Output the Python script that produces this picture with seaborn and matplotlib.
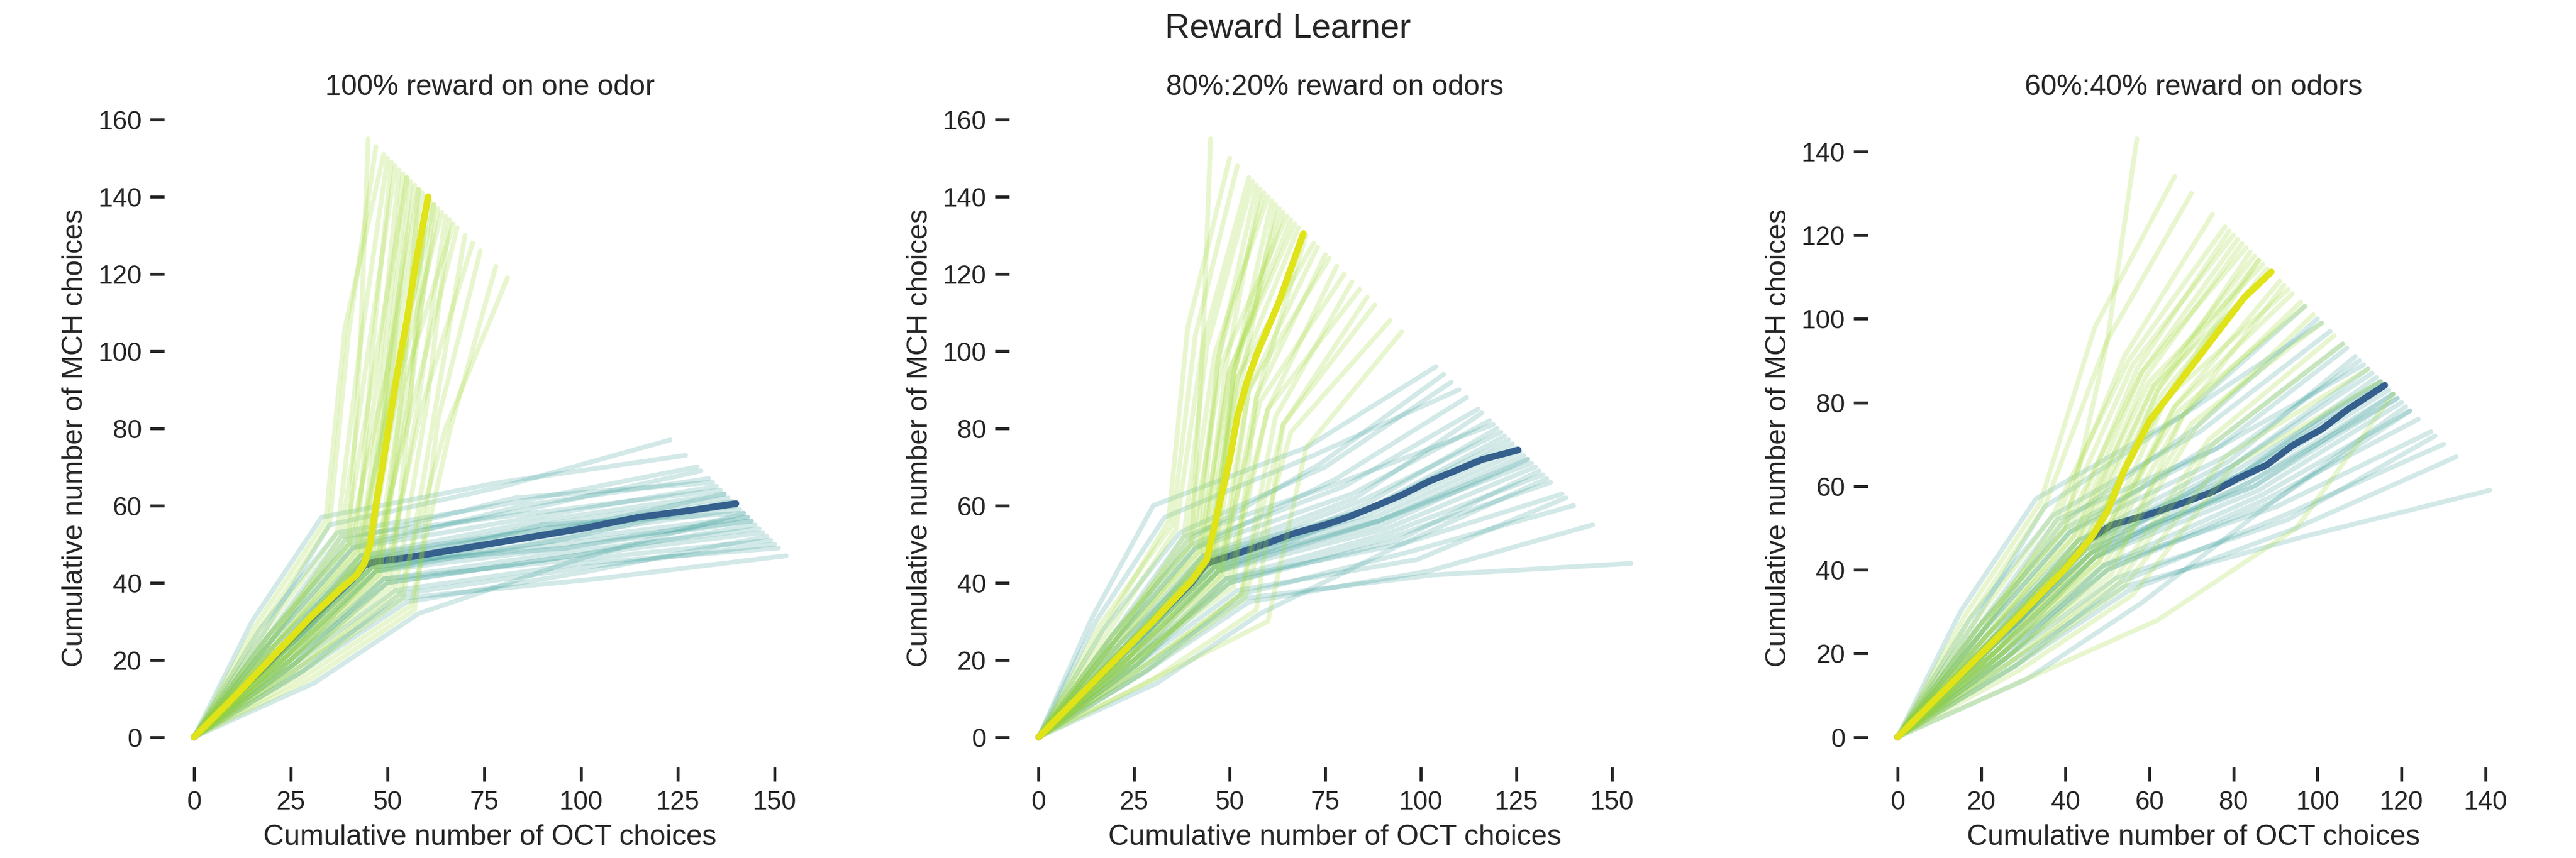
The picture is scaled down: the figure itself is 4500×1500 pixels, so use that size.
import numpy as np
import pandas as pd
import matplotlib
matplotlib.use("Agg")
import matplotlib.pyplot as plt
from matplotlib.ticker import MultipleLocator
import seaborn as sns

# ---------------- data ----------------
TITLES = ["100% reward on one odor", "80%:20% reward on odors", "60%:40% reward on odors"]
SUPTITLE = "Reward Learner"
XLABEL = "Cumulative number of OCT choices"
YLABEL = "Cumulative number of MCH choices"
XTICK_STEP = [25, 25, 20]
YTICK_STEP = [20, 20, 20]

# individual agents: cumulative counts at trials 45, 90, 145, 200 (all start at 0, 0)
# ---- panel 1: 100% reward ----
P1_YEL_OCT = [[23,45,53,61],[20,40,43,45],[25,48,55,63],[18,37,43,50],[22,44,50,57],[27,52,60,66],
              [21,42,52,62],[24,47,54,58],[19,39,47,55],[26,50,58,65],[22,43,49,54],[24,46,57,68],
              [17,35,40,47],[28,54,62,70],[23,45,51,56],[21,41,48,53],[25,49,59,72],[20,38,45,52],
              [26,51,56,60],[22,44,53,64],[29,56,66,78],[24,46,50,55],[16,34,39,49],[23,43,51,59],
              [27,53,65,81],[21,42,46,51],[25,47,56,62],[19,40,50,58],[24,48,54,67],[30,57,63,74]]
P1_YEL_MCH = [[22,45,92,139],[25,50,102,155],[20,42,90,137],[27,53,102,150],[23,46,95,143],[18,38,85,134],
              [24,48,93,138],[21,43,91,142],[26,51,98,145],[19,40,87,135],[23,47,96,146],[21,44,88,132],
              [28,55,105,153],[17,36,83,130],[22,45,94,144],[24,49,97,147],[20,41,86,128],[25,52,100,148],
              [19,39,89,140],[23,46,92,136],[16,34,79,122],[21,44,95,145],[29,56,106,151],[22,47,94,141],
              [18,37,80,119],[24,48,99,149],[20,43,89,138],[26,50,95,142],[21,42,91,133],[15,33,82,126]]
P1_TEA_OCT = [[21,43,91,139],[26,49,97,146],[19,40,86,131],[24,47,94,143],[17,37,84,130],[25,49,99,149],
              [22,44,90,138],[23,46,95,144],[20,41,85,133],[28,53,101,150],[21,44,93,141],[25,47,92,137],
              [18,35,80,123],[27,54,104,153],[22,45,92,140],[20,41,88,135],[26,50,98,147],[19,38,87,136],
              [25,50,98,145],[23,46,90,142],[28,55,102,148],[23,46,94,139],[15,33,79,127],[24,44,91,140],
              [26,52,100,151],[22,43,89,137],[24,47,96,143],[20,39,83,134],[23,45,96,144],[31,58,99,142]]
P1_TEA_MCH = [[24,47,54,61],[19,41,48,54],[26,50,59,69],[21,43,51,57],[28,53,61,70],[20,41,46,51],
              [23,46,55,62],[22,44,50,56],[25,49,60,67],[17,37,44,50],[24,46,52,59],[20,43,53,63],
              [27,55,65,77],[18,36,41,47],[23,45,53,60],[25,49,57,65],[19,40,47,53],[26,52,58,64],
              [20,40,47,55],[22,44,55,58],[17,35,43,52],[22,44,51,61],[30,57,66,73],[21,46,54,60],
              [19,38,45,49],[23,47,56,63],[21,43,49,57],[25,51,62,66],[22,45,49,56],[14,32,46,58]]
# ---- panel 2: 80%:20% ----
P2_YEL_OCT = [[22,45,52,68],[20,40,43,45],[26,48,57,75],[18,36,43,55],[23,44,51,64],[27,53,62,82],
              [20,42,50,66],[24,46,53,62],[19,39,46,60],[25,50,60,78],[22,43,49,58],[24,47,58,80],
              [16,35,41,52],[28,54,66,92],[23,45,51,63],[21,41,47,57],[26,49,60,84],[20,38,44,56],
              [25,51,57,70],[22,44,52,72],[30,60,70,95],[24,46,51,61],[17,34,39,50],[23,43,50,67],
              [27,53,64,88],[21,42,47,59],[25,47,55,73],[19,40,48,65],[24,48,55,76],[30,57,64,86]]
P2_YEL_MCH = [[23,45,93,132],[25,50,102,155],[19,42,88,125],[27,54,102,145],[22,46,94,136],[18,37,83,118],
              [25,48,95,134],[21,44,92,138],[26,51,99,140],[20,40,85,122],[23,47,96,142],[21,43,87,120],
              [29,55,104,148],[17,36,79,108],[22,45,94,137],[24,49,98,143],[19,41,85,116],[25,52,101,144],
              [20,39,88,130],[23,46,93,128],[15,30,75,105],[21,44,94,139],[28,56,106,150],[22,47,95,133],
              [18,37,81,112],[24,48,98,141],[20,43,90,127],[26,50,97,135],[21,42,90,124],[15,33,81,114]]
P2_TEA_OCT = [[21,43,86,124],[26,49,92,132],[19,40,80,115],[24,47,89,129],[17,37,75,108],[25,49,95,137],
              [22,44,84,121],[23,46,90,128],[20,41,78,112],[28,53,97,140],[21,44,88,126],[25,47,86,122],
              [14,30,70,104],[27,54,103,155],[22,45,87,125],[20,41,82,118],[26,50,93,134],[19,38,79,119],
              [25,50,94,131],[23,46,85,120],[28,55,102,145],[23,46,89,127],[15,33,72,110],[24,44,86,123],
              [26,52,99,138],[22,43,83,116],[24,47,91,130],[20,39,74,106],[23,45,89,128],[31,58,95,133]]
P2_TEA_MCH = [[24,47,59,76],[19,41,53,68],[26,50,65,85],[21,43,56,71],[28,53,70,92],[20,41,50,63],
              [23,46,61,79],[22,44,55,72],[25,49,67,88],[17,37,48,60],[24,46,57,74],[20,43,59,78],
              [31,60,75,96],[18,36,42,45],[23,45,58,75],[25,49,63,82],[19,40,52,66],[26,52,66,81],
              [20,40,51,69],[22,44,60,80],[17,35,43,55],[22,44,56,73],[30,57,73,90],[21,46,59,77],
              [19,38,46,62],[23,47,62,84],[21,43,54,70],[25,51,71,94],[22,45,56,72],[14,32,50,67]]
# ---- panel 3: 60%:40% ----
P3_YEL_OCT = [[23,45,63,88],[20,40,50,57],[25,48,68,96],[18,37,55,78],[22,44,61,85],[27,52,74,104],
              [21,42,60,87],[24,47,64,86],[19,39,56,80],[26,50,71,99],[22,43,59,82],[24,46,67,97],
              [17,35,50,70],[28,54,78,112],[23,45,62,86],[21,41,57,79],[25,49,70,101],[20,38,54,75],
              [26,51,68,92],[22,44,64,93],[29,56,80,115],[24,46,62,84],[16,34,47,66],[23,43,61,89],
              [27,53,75,106],[21,42,58,81],[25,47,66,94],[19,40,58,83],[24,48,66,91],[31,62,95,118]]
P3_YEL_MCH = [[22,45,82,112],[25,50,95,143],[20,42,77,104],[27,53,90,122],[23,46,84,115],[18,38,71,96],
              [24,48,85,113],[21,43,81,114],[26,51,89,120],[19,40,74,101],[23,47,86,118],[21,44,78,103],
              [28,55,95,130],[17,36,67,88],[22,45,83,114],[24,49,88,121],[20,41,75,99],[25,52,91,125],
              [19,39,77,108],[23,46,81,107],[16,34,65,85],[21,44,83,116],[29,56,98,134],[22,47,84,111],
              [18,37,70,94],[24,48,87,119],[20,43,79,106],[26,50,87,117],[21,42,79,109],[14,28,50,82]]
P3_TEA_OCT = [[21,43,82,116],[26,49,87,122],[19,40,76,107],[24,47,84,119],[17,37,72,103],[25,49,90,127],
              [22,44,80,113],[23,46,85,118],[20,41,75,106],[28,53,92,130],[21,44,83,117],[25,47,82,114],
              [18,35,68,97],[27,54,97,141],[22,45,82,115],[20,41,78,110],[26,50,88,124],[19,38,76,111],
              [25,50,89,121],[23,46,80,112],[28,55,95,133],[23,46,84,118],[15,33,68,101],[24,44,81,115],
              [26,52,93,128],[22,43,79,109],[24,47,86,120],[20,39,71,100],[23,45,85,119],[31,58,89,122]]
P3_TEA_MCH = [[24,47,63,84],[19,41,58,78],[26,50,69,93],[21,43,61,81],[28,53,73,97],[20,41,55,73],
              [23,46,65,87],[22,44,60,82],[25,49,70,94],[17,37,53,70],[24,46,62,83],[20,43,63,86],
              [27,55,77,103],[18,36,48,59],[23,45,63,85],[25,49,67,90],[19,40,57,76],[26,52,69,89],
              [20,40,56,79],[22,44,65,88],[17,35,50,67],[22,44,61,82],[30,57,77,99],[21,46,64,85],
              [19,38,52,72],[23,47,66,91],[21,43,59,80],[25,51,74,100],[22,45,60,81],[14,32,56,78]]

# group means
P1_YEL_MEAN_OCT = [0, 10, 20, 30, 38, 42, 44, 45.5, 47, 49, 51, 53, 55, 57, 59, 60.5]
P1_YEL_MEAN_MCH = [0, 10, 20.5, 31, 38.5, 42, 45, 50, 60, 72, 85, 97, 108, 121, 132, 140]
P1_TEA_MEAN_OCT = [0, 10, 20, 30, 38, 42, 44, 47, 55, 70, 85, 100, 115, 130, 140]
P1_TEA_MEAN_MCH = [0, 10, 20, 30.5, 38, 42, 44.5, 45.5, 46.5, 49, 51.5, 54, 57, 59, 60.5]
P2_YEL_MEAN_OCT = [0, 10, 20, 30, 40, 44, 47, 50, 52, 54.5, 57, 60, 63, 65.5, 69.3]
P2_YEL_MEAN_MCH = [0, 10, 20, 30, 40.5, 46, 59, 72, 83, 92, 99, 106, 113, 120, 130.5]
P2_TEA_MEAN_OCT = [0, 10, 20, 30, 40, 44, 52.6, 60, 66.8, 75, 81, 88, 95, 102, 109, 116, 125.5]
P2_TEA_MEAN_MCH = [0, 10, 20, 30, 40, 45, 47.8, 50.3, 52.8, 55, 57, 59.8, 62.7, 66.2, 69, 71.9, 74.4]
P3_YEL_MEAN_OCT = [0, 10, 20, 30, 40, 46, 50, 54, 60, 67, 75, 82.5, 89]
P3_YEL_MEAN_MCH = [0, 10, 20, 30, 40.3, 47.5, 54, 63.8, 75.6, 84.7, 95.2, 105, 111.2]
P3_TEA_MEAN_OCT = [0, 10, 20, 30, 40, 46, 51, 60, 68, 75, 81, 88, 94, 101, 107, 116]
P3_TEA_MEAN_MCH = [0, 10, 20, 30, 40.3, 47.5, 50.7, 53.3, 56, 58.6, 61.8, 65.1, 69.7, 73.6, 78.2, 84.1]

PANELS = [
    (P1_YEL_OCT, P1_YEL_MCH, P1_TEA_OCT, P1_TEA_MCH,
     P1_YEL_MEAN_OCT, P1_YEL_MEAN_MCH, P1_TEA_MEAN_OCT, P1_TEA_MEAN_MCH),
    (P2_YEL_OCT, P2_YEL_MCH, P2_TEA_OCT, P2_TEA_MCH,
     P2_YEL_MEAN_OCT, P2_YEL_MEAN_MCH, P2_TEA_MEAN_OCT, P2_TEA_MEAN_MCH),
    (P3_YEL_OCT, P3_YEL_MCH, P3_TEA_OCT, P3_TEA_MCH,
     P3_YEL_MEAN_OCT, P3_YEL_MEAN_MCH, P3_TEA_MEAN_OCT, P3_TEA_MEAN_MCH),
]

# ---------------- style ----------------
sns.set_theme(style="ticks", context="notebook")
plt.rcParams["font.family"] = ["Liberation Sans", "DejaVu Sans"]

vir = plt.get_cmap("viridis")
C_TEAL = vir(0.50)
C_YEL = vir(0.86)
C_BLUE_MEAN = vir(0.30)
C_YEL_MEAN = vir(0.95)


def long_df(octs, mchs):
    rows = []
    for i, (o, m) in enumerate(zip(octs, mchs)):
        rows.append((i, 0, 0))
        for a, b in zip(o, m):
            rows.append((i, a, b))
    return pd.DataFrame(rows, columns=["agent", "oct", "mch"])


fig = plt.figure(figsize=(15, 5), dpi=300)
lefts = [0.0638, 0.3917, 0.7251]
W, H, B = 0.2529, 0.767, 0.106

line_kw = dict(solid_capstyle="round", solid_joinstyle="round")

for k, (yo, ym, to, tm, ymo, ymm, tmo, tmm) in enumerate(PANELS):
    ax = fig.add_axes([lefts[k], B, W, H])
    sns.lineplot(data=long_df(to, tm), x="oct", y="mch", units="agent", estimator=None,
                 sort=False, color=C_TEAL, alpha=0.2, lw=2.0, ax=ax, legend=False, **line_kw)
    sns.lineplot(x=tmo, y=tmm, estimator=None, sort=False, color=C_BLUE_MEAN, lw=2.8,
                 ax=ax, legend=False, **line_kw)
    sns.lineplot(data=long_df(yo, ym), x="oct", y="mch", units="agent", estimator=None,
                 sort=False, color=C_YEL, alpha=0.24, lw=2.0, ax=ax, legend=False, **line_kw)
    sns.lineplot(x=ymo, y=ymm, estimator=None, sort=False, color=C_YEL_MEAN, lw=2.8,
                 ax=ax, legend=False, **line_kw)

    for s in ax.spines.values():
        s.set_visible(False)
    ax.xaxis.set_major_locator(MultipleLocator(XTICK_STEP[k]))
    ax.yaxis.set_major_locator(MultipleLocator(YTICK_STEP[k]))
    ax.set_xlabel(XLABEL, fontsize=12)
    ax.set_ylabel(YLABEL, fontsize=12)
    ax.set_title(TITLES[k], fontsize=12)
    ax.tick_params(labelsize=11)

fig.suptitle(SUPTITLE, fontsize=14.4, y=0.985)
fig.savefig("out.png", dpi=300, facecolor="white")
